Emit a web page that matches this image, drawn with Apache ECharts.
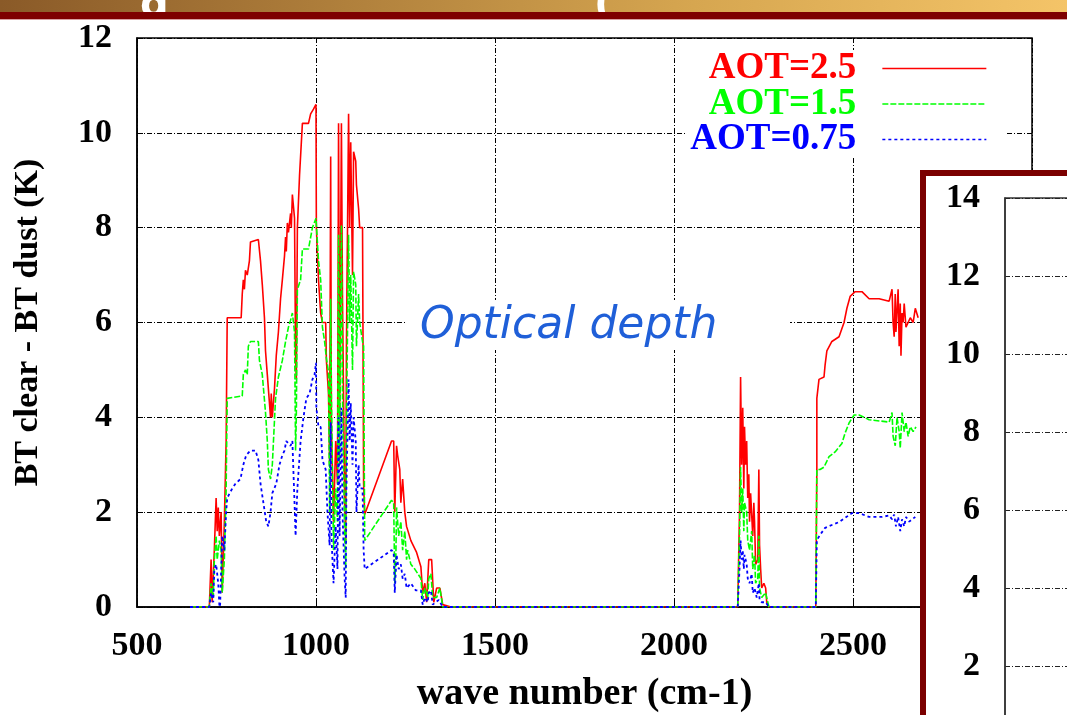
<!DOCTYPE html>
<html><head><meta charset="utf-8">
<script src="https://cdn.jsdelivr.net/npm/echarts@6/dist/echarts.min.js"></script>
<style>html,body{margin:0;padding:0;background:#fff;overflow:hidden}#c{width:1067px;height:715px}</style>
</head><body><div id="c"></div>
<script>
// ---- data: [wave number (cm-1), BT clear - BT dust (K)] ----
const seriesNames = ['AOT=2.5', 'AOT=1.5', 'AOT=0.75'];
const seriesColors = ['#ff0000', '#00ff00', '#0000ff'];
const xTicks = [500, 1000, 1500, 2000, 2500, 3000];
const yTicks = [0, 2, 4, 6, 8, 10, 12];
const insetYTicks = [0, 2, 4, 6, 8, 10, 12, 14];

const aot25 = [[648,0],[702,0],[707,1.0],[710,0.1],[716,1.2],[721,2.3],[724,1.6],[727,2.1],[730,1.5],[735,2.0],[738,0.3],[744,1.8],[749,3.5],[752,6.1],[791,6.1],[794,6.6],[797,6.9],[800,6.7],[803,7.1],[808,7.0],[814,7.3],[817,7.7],[839,7.75],[845,7.3],[850,6.8],[856,6.1],[859,5.4],[864,4.9],[873,4.0],[875,4.5],[878,4.0],[884,4.6],[889,5.3],[895,5.8],[901,6.5],[906,6.9],[912,7.4],[915,7.8],[917,7.5],[920,8.1],[923,7.9],[929,8.3],[931,8.0],[934,8.7],[940,8.2],[943,5.3],[945,4.8],[948,8.0],[954,9.1],[962,10.2],[979,10.2],[985,10.4],[993,10.5],[1000,10.6],[1001,8.0],[1007,6.9],[1013,6.2],[1018,6.0],[1027,6.0],[1029,5.2],[1035,4.5],[1038,3.0],[1041,9.5],[1043,3.8],[1049,1.8],[1055,3.5],[1060,2.6],[1063,10.2],[1066,4.0],[1071,10.2],[1074,6.5],[1080,2.3],[1083,1.4],[1085,5.5],[1091,10.4],[1094,8.0],[1097,9.8],[1102,7.0],[1105,9.6],[1111,9.4],[1113,8.9],[1119,8.4],[1122,8.0],[1130,8.0],[1133,2.6],[1136,1.95],[1211,3.5],[1217,3.5],[1220,2.0],[1225,3.4],[1228,3.2],[1234,2.9],[1237,2.2],[1242,2.7],[1248,2.0],[1253,1.7],[1265,1.4],[1281,1.15],[1293,0.85],[1298,0.3],[1304,0.5],[1309,0.1],[1315,1.0],[1323,1.0],[1329,0.1],[1337,0.4],[1346,0.4],[1354,0.05],[1377,0],[2178,0],[2183,2.0],[2186,4.85],[2189,3.0],[2192,4.2],[2195,2.5],[2197,3.8],[2200,3.0],[2203,3.5],[2206,2.3],[2209,2.8],[2211,1.8],[2214,2.4],[2220,1.5],[2223,2.2],[2225,1.8],[2228,0.9],[2234,1.0],[2237,2.9],[2239,1.3],[2242,0.8],[2245,0.4],[2251,0.5],[2256,0.4],[2259,0.1],[2265,0],[2396,0],[2399,2.95],[2399,4.4],[2405,4.8],[2419,4.85],[2422,5.1],[2427,5.4],[2441,5.6],[2461,5.7],[2475,6.0],[2483,6.3],[2492,6.55],[2506,6.65],[2525,6.65],[2545,6.5],[2573,6.5],[2601,6.45],[2609,6.7],[2612,6.0],[2615,5.7],[2618,6.6],[2620,5.8],[2626,6.7],[2629,5.5],[2632,6.4],[2634,5.3],[2637,6.2],[2640,6.0],[2643,6.4],[2648,5.9],[2654,6.0],[2660,6.1],[2668,6.0],[2674,6.3],[2682,6.1]];

const aot15 = [[648,0],[702,0],[707,0.5],[713,0.2],[716,1.0],[721,1.5],[724,1.0],[730,1.4],[735,1.2],[738,0.3],[744,1.0],[749,2.5],[752,4.4],[794,4.45],[797,4.9],[803,5.0],[808,4.9],[811,5.5],[817,5.6],[839,5.6],[842,5.2],[850,4.9],[859,4.1],[864,3.5],[867,2.9],[873,2.7],[878,3.0],[887,4.4],[895,4.85],[906,5.2],[915,5.6],[923,5.9],[929,6.05],[934,6.2],[940,5.8],[943,3.3],[945,4.0],[948,6.7],[957,6.9],[962,7.55],[979,7.55],[990,8.0],[1000,8.2],[1007,7.3],[1013,6.9],[1018,5.9],[1024,5.6],[1029,5.25],[1035,4.95],[1038,2.0],[1041,6.5],[1043,4.5],[1049,1.2],[1055,2.5],[1060,1.8],[1063,7.85],[1066,3.0],[1071,8.05],[1074,4.5],[1080,1.5],[1083,0.8],[1085,3.8],[1091,7.85],[1094,6.0],[1097,7.0],[1102,5.0],[1105,7.07],[1111,6.8],[1113,5.5],[1119,6.6],[1122,6.0],[1130,5.6],[1133,5.5],[1136,1.4],[1211,2.25],[1217,2.2],[1220,0.5],[1223,1.0],[1225,2.1],[1231,1.5],[1237,1.8],[1242,1.2],[1248,1.6],[1253,1.0],[1256,1.2],[1265,0.9],[1276,0.8],[1293,0.6],[1298,0.15],[1304,0.4],[1312,0.2],[1315,0.6],[1321,0.7],[1326,0.2],[1337,0.2],[1346,0.4],[1354,0],[1377,0],[2178,0],[2183,1.5],[2186,2.95],[2189,2.0],[2192,2.5],[2195,1.6],[2197,2.2],[2203,2.0],[2206,1.4],[2211,1.2],[2217,1.6],[2220,0.8],[2225,1.1],[2228,0.5],[2234,0.6],[2237,1.5],[2239,0.4],[2245,0.2],[2256,0.3],[2265,0],[2396,0],[2399,2.9],[2408,2.9],[2419,2.95],[2433,3.17],[2450,3.27],[2469,3.45],[2478,3.67],[2489,3.88],[2503,4.05],[2517,4.05],[2545,3.95],[2601,3.9],[2609,4.1],[2612,3.6],[2618,3.4],[2623,4.0],[2629,3.7],[2632,3.35],[2637,4.1],[2643,3.7],[2648,3.9],[2654,3.6],[2660,3.8],[2668,3.7],[2676,3.8]];

const aot075 = [[648,0],[702,0],[707,0.3],[713,0.1],[716,0.8],[721,0.9],[727,0.5],[730,0.05],[732,0],[738,1.5],[744,1.2],[749,2.0],[752,2.3],[766,2.5],[775,2.6],[789,2.7],[797,3.0],[805,3.2],[817,3.3],[831,3.3],[839,3.1],[845,2.6],[853,2.2],[861,1.8],[867,1.7],[873,2.0],[878,2.4],[889,2.6],[898,3.0],[906,3.2],[912,3.3],[917,3.5],[929,3.4],[934,3.5],[940,2.2],[943,1.5],[948,2.5],[957,3.5],[965,4.0],[973,4.4],[982,4.5],[990,4.8],[996,4.9],[1000,5.15],[1001,4.2],[1007,3.8],[1013,3.8],[1018,3.1],[1027,2.9],[1032,2.0],[1038,1.3],[1041,3.9],[1043,1.5],[1049,0.5],[1055,1.7],[1060,0.8],[1063,4.0],[1066,1.5],[1071,4.2],[1074,2.0],[1080,0.6],[1083,0.2],[1085,2.5],[1091,4.8],[1094,3.5],[1097,4.3],[1102,3.0],[1105,4.0],[1111,3.5],[1113,2.0],[1119,3.0],[1122,2.5],[1130,2.5],[1133,1.2],[1136,0.8],[1211,1.2],[1217,1.15],[1220,0.3],[1225,1.1],[1231,0.8],[1237,0.9],[1242,0.6],[1248,0.7],[1253,0.4],[1265,0.5],[1279,0.35],[1293,0.35],[1298,0.05],[1304,0.2],[1312,0.1],[1315,0.3],[1321,0.35],[1326,0.05],[1343,0.15],[1354,0],[1377,0],[2178,0],[2183,0.8],[2186,1.4],[2189,1.0],[2192,1.2],[2195,0.8],[2197,1.1],[2203,0.9],[2206,0.6],[2211,0.5],[2217,0.7],[2220,0.3],[2225,0.4],[2231,0.2],[2237,0.5],[2239,0.15],[2245,0.1],[2256,0.1],[2265,0],[2396,0],[2399,1.41],[2408,1.52],[2422,1.67],[2441,1.73],[2461,1.79],[2478,1.88],[2497,1.98],[2517,1.98],[2545,1.9],[2581,1.9],[2601,1.93],[2609,1.85],[2615,1.95],[2620,1.7],[2626,1.9],[2632,1.6],[2637,1.85],[2643,1.7],[2648,1.9],[2657,1.8],[2665,1.85],[2674,1.9]];

const seriesData = [aot25, aot15, aot075];
const seriesDash = ['solid', [6, 2], [3, 3]];
const seriesWidth = [1.6, 1.6, 1.8];

const serif = 'Liberation Serif';
const gridDash = [5, 2, 1, 2];
const plainNum = v => String(v);

const chart = echarts.init(document.getElementById('c'), null, {renderer: 'canvas'});
const option = {
  animation: false,
  backgroundColor: '#ffffff',
  grid: [
    {left: 137, top: 38, right: 35, bottom: 108, show: true, borderColor: '#000', borderWidth: 1.5,
     backgroundColor: 'transparent', outerBoundsMode: 'none', containLabel: false},
    {left: 1005, top: 198, width: 300, height: 546, show: true, borderColor: '#333', borderWidth: 1.5,
     backgroundColor: '#fff', z: 30, outerBoundsMode: 'none', containLabel: false}
  ],
  xAxis: [
    {type: 'value', gridIndex: 0, min: xTicks[0], max: xTicks[xTicks.length - 1], interval: xTicks[1] - xTicks[0],
     axisLine: {show: true, onZero: false, lineStyle: {color: '#000', width: 1.5}},
     axisTick: {show: true, inside: true, length: 6, lineStyle: {color: '#000'}},
     splitLine: {show: true, lineStyle: {color: '#000', width: 1, type: gridDash}},
     axisLabel: {margin: 22, color: '#000', fontFamily: serif, fontWeight: 'bold', fontSize: 34, formatter: plainNum},
     name: 'wave number (cm-1)', nameLocation: 'middle', nameGap: 68,
     nameTextStyle: {color: '#000', fontFamily: serif, fontWeight: 'bold', fontSize: 38}},
    {type: 'value', gridIndex: 1, min: 0, max: 1, show: false}
  ],
  yAxis: [
    {type: 'value', gridIndex: 0, min: yTicks[0], max: yTicks[yTicks.length - 1], interval: yTicks[1] - yTicks[0],
     axisLine: {show: true, onZero: false, lineStyle: {color: '#000', width: 1.5}},
     axisTick: {show: true, inside: true, length: 6, lineStyle: {color: '#000'}},
     splitLine: {show: true, lineStyle: {color: '#000', width: 1, type: gridDash}},
     axisLabel: {margin: 25, color: '#000', fontFamily: serif, fontWeight: 'bold', fontSize: 34, formatter: plainNum},
     name: 'BT clear - BT dust (K)', nameLocation: 'middle', nameGap: 92, nameRotate: 90,
     nameTextStyle: {color: '#000', fontFamily: serif, fontWeight: 'bold', fontSize: 34}},
    {type: 'value', gridIndex: 1, min: insetYTicks[0], max: insetYTicks[insetYTicks.length - 1], interval: insetYTicks[1] - insetYTicks[0], z: 30,
     axisLine: {show: true, onZero: false, lineStyle: {color: '#333', width: 1.5}},
     axisTick: {show: false},
     splitLine: {show: true, lineStyle: {color: '#222', width: 1, type: gridDash}},
     axisLabel: {margin: 25, color: '#000', fontFamily: serif, fontWeight: 'bold', fontSize: 34, formatter: plainNum}}
  ],
  legend: {
    orient: 'vertical', right: 60, top: 50, align: 'right',
    itemWidth: 104, itemHeight: 14, itemGap: -1.5,
    backgroundColor: '#fff', padding: [0, 20, 0, 4], z: 10,
    itemStyle: {color: 'rgba(0,0,0,0)', borderColor: 'rgba(0,0,0,0)', borderWidth: 0},
    lineStyle: {width: 1.3},
    textStyle: {fontFamily: serif, fontWeight: 'bold', fontSize: 37, lineHeight: 30, padding: [0, 21, 0, 0]},
    data: seriesNames.map((n, i) => ({name: n, textStyle: {color: seriesColors[i]}}))
  },
  series: seriesNames.map((n, i) => ({
    name: n, type: 'line', xAxisIndex: 0, yAxisIndex: 0,
    data: seriesData[i], symbol: 'none', showSymbol: false, z: 3 + i,
    itemStyle: {color: seriesColors[i]},
    lineStyle: {color: seriesColors[i], width: seriesWidth[i], type: seriesDash[i]}
  })),
  graphic: [
    {type: 'rect', z: 50, shape: {x: 0, y: 0, width: 1067, height: 12},
     style: {fill: new echarts.graphic.LinearGradient(0, 0, 1, 0, [{offset: 0, color: '#8a5a28'}, {offset: 0.65, color: '#d6a650'}, {offset: 1, color: '#f4c468'}])}},
    {type: 'text', z: 51, x: 140, y: -13, style: {text: 'g', fill: '#fff', font: 'bold 40px "DejaVu Sans"', textVerticalAlign: 'alphabetic'}},
    {type: 'text', z: 51, x: 594, y: -13, style: {text: '(', fill: '#fff', font: 'bold 40px "DejaVu Sans"', textVerticalAlign: 'alphabetic'}},
    {type: 'rect', z: 52, shape: {x: 0, y: 12, width: 1067, height: 7}, style: {fill: '#7e0000'}},
    {type: 'rect', z: 52, shape: {x: 0, y: 19, width: 1067, height: 1}, style: {fill: '#d8a0a0'}},
    {type: 'rect', z: 8, shape: {x: 405, y: 300, width: 385, height: 50}, style: {fill: '#fff'}},
    {type: 'text', z: 9, x: 420, y: 327, style: {text: 'Optical depth', fill: '#1f5fd8', font: 'italic 44px "DejaVu Sans"', textVerticalAlign: 'middle'}},
    {type: 'rect', z: 20, shape: {x: 923, y: 173, width: 300, height: 600}, style: {fill: '#fff', stroke: '#7b0000', lineWidth: 6}}
  ]
};
chart.setOption(option);
</script>
</body></html>
